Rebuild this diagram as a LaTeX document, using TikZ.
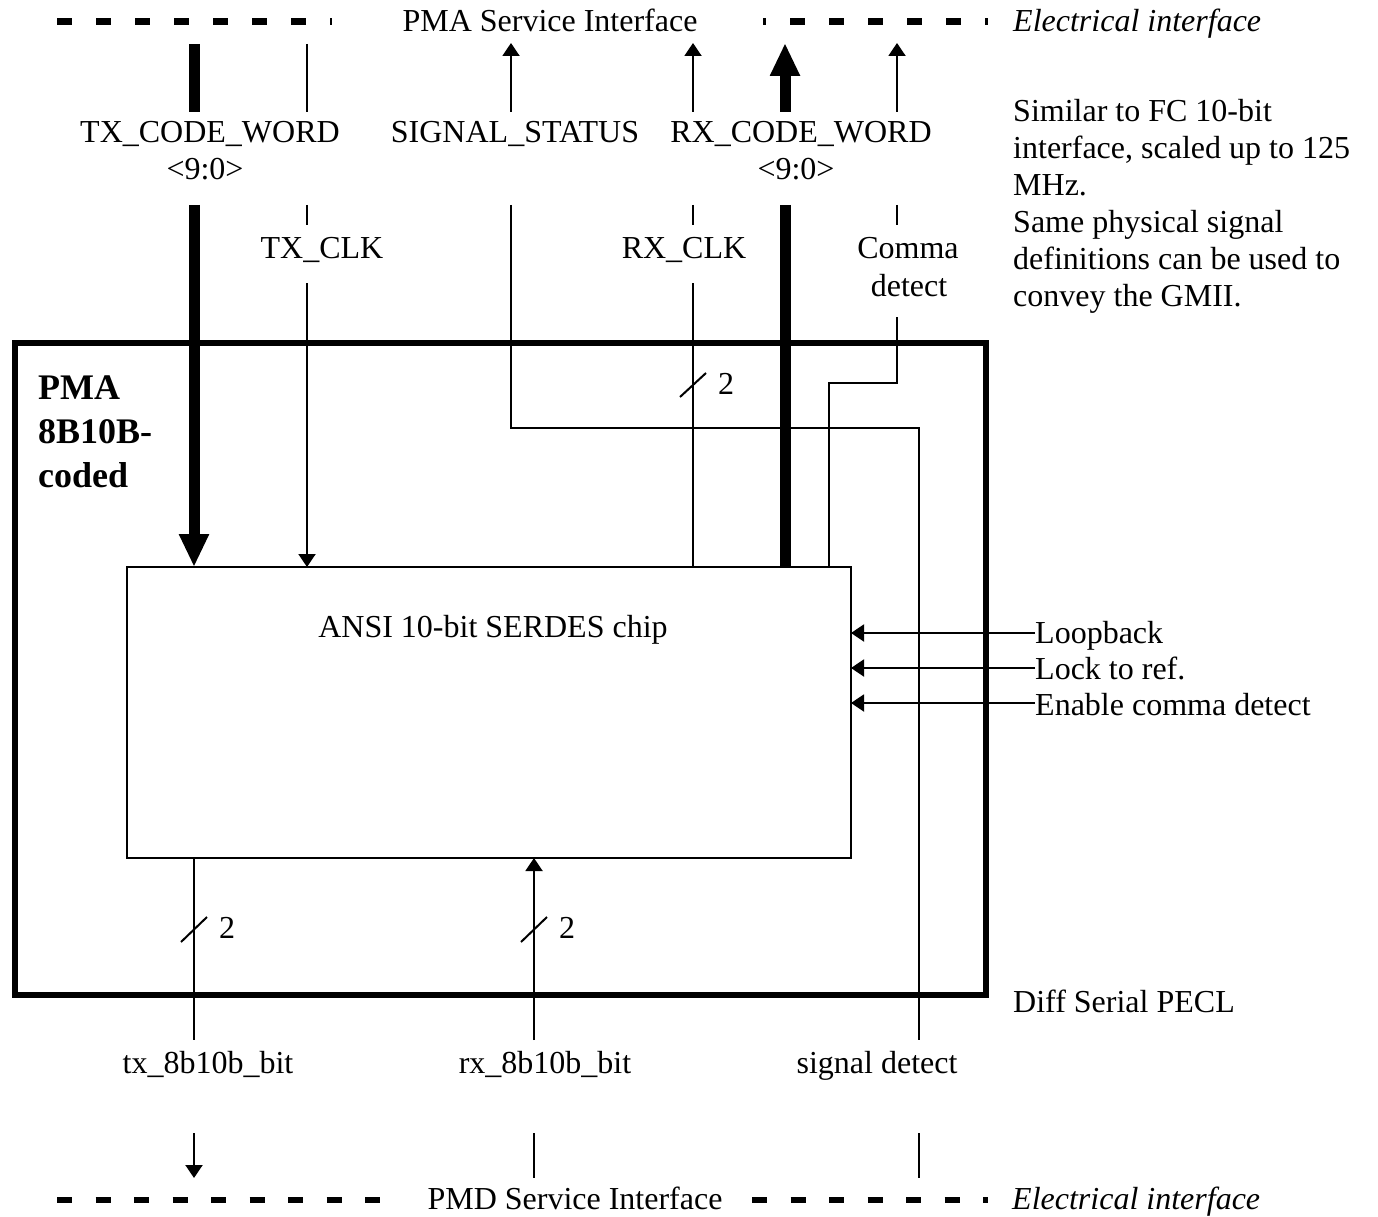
\documentclass[tikz,border=0pt]{standalone}
\usepackage{fontspec}
\setmainfont{Liberation Serif}
\usetikzlibrary{arrows.meta}
\begin{document}
\begin{tikzpicture}[x=1pt,y=-1pt,
  txt/.style={inner sep=0pt, font=\fontsize{32}{37}\selectfont},
  itxt/.style={inner sep=0pt, font=\fontsize{32}{37}\selectfont\itshape},
  btxt/.style={inner sep=0pt, font=\fontsize{36}{44}\selectfont\bfseries},
  wire/.style={line width=2pt},
  bus/.style={line width=11pt},
  sarrow/.style={wire, -{Triangle[width=17pt,length=13pt]}},
  barrow/.style={bus, -{Triangle[width=28pt,length=33pt]}},
  dashtop/.style={line width=7pt, dash pattern=on 15pt off 24pt},
  dashbot/.style={line width=6pt, dash pattern=on 15pt off 23.5pt},
  box/.style={draw, inner sep=0pt, outer sep=0pt, anchor=north west}
  ]
\fill[white] (0,0) rectangle (1378,1217);
\useasboundingbox (0,0) rectangle (1378,1217);

% lane coordinates
\coordinate (xtx) at (194,0);
\coordinate (xtxclk) at (307,0);
\coordinate (xss) at (511,0);
\coordinate (xrxclk) at (693,0);
\coordinate (xrxcw) at (785,0);
\coordinate (xcomma) at (897,0);
\coordinate (xcommain) at (829,0);
\coordinate (xsd) at (919,0);
\coordinate (xrx) at (534,0);

% boxes
\node[box, line width=5.5pt, minimum width=971pt, minimum height=652pt] (pma) at (15,343) {};
\node[box, wire, minimum width=724pt, minimum height=291pt] (chip) at (127,567) {};
\node[txt,anchor=base] (chiplbl) at (493,637) {ANSI 10-bit SERDES chip};
\node[btxt,anchor=north west,align=left] (pmalbl) at (38,376) {PMA\\8B10B-\\coded};

% top interface
\draw[dashtop] (57,22) -- (332,22);
\draw[dashtop, dash phase=12pt] (763,22) -- (988,22);
\node[txt,anchor=base] (pmasi) at (550,32) {PMA Service Interface};
\node[itxt,anchor=base west] (elec1) at (1013,32) {Electrical interface};
\node[txt,anchor=north west,align=left] (note) at (1013,99) {Similar to FC 10-bit\\interface, scaled up to 125\\MHz.\\Same physical signal\\definitions can be used to\\convey the GMII.};

% signal labels
\node[txt,anchor=base] (txcw) at (210,143) {TX\_CODE\_WORD};
\node[txt,anchor=base] (txcwb) at (205,180) {<9:0>};
\node[txt,anchor=base] (ss) at (515,143) {SIGNAL\_STATUS};
\node[txt,anchor=base] (rxcw) at (801,143) {RX\_CODE\_WORD};
\node[txt,anchor=base] (rxcwb) at (796,180) {<9:0>};
\node[txt,anchor=base] (txclk) at (322,258) {TX\_CLK};
\node[txt,anchor=base] (rxclk) at (684,258) {RX\_CLK};
\node[txt,anchor=base] (comma) at (908,258) {Comma};
\node[txt,anchor=base] (commab) at (909,296) {detect};

% TX_CODE_WORD
\draw[bus] (194,44) -- (194,112);
\draw[barrow] (194,205) -- (chip.north -| xtx);
% TX_CLK
\draw[wire] (307,44) -- (307,112);
\draw[wire] (307,205) -- (307,225);
\draw[sarrow] (307,283) -- (chip.north -| xtxclk);
% SIGNAL_STATUS / signal detect
\draw[sarrow] (511,112) -- (511,43);
\draw[wire] (511,205) -- (511,428) -- (919,428) -- (919,1040);
% RX_CLK
\draw[sarrow] (693,112) -- (693,43);
\draw[wire] (693,205) -- (693,225);
\draw[wire] (693,283) -- (chip.north -| xrxclk);
\draw[wire] (680,397) -- (706,373);
\node[txt,anchor=base] (w1) at (726,394) {2};
% RX_CODE_WORD
\draw[barrow] (785,112) -- (785,43);
\draw[bus] (785,205) -- (chip.north -| xrxcw);
% Comma detect
\draw[sarrow] (897,112) -- (897,43);
\draw[wire] (897,205) -- (897,225);
\draw[wire] (897,317) -- (897,383) -- (829,383) -- (chip.north -| xcommain);

% right control inputs
\node[txt,anchor=base west] (loop) at (1035,643) {Loopback};
\node[txt,anchor=base west] (lock) at (1035,679) {Lock to ref.};
\node[txt,anchor=base west] (ecd) at (1035,715) {Enable comma detect};
\draw[sarrow] ([yshift=10pt]loop.base west) coordinate (l1) -- (l1 -| chip.east);
\draw[sarrow] ([yshift=11pt]lock.base west) coordinate (l2) -- (l2 -| chip.east);
\draw[sarrow] ([yshift=12pt]ecd.base west) coordinate (l3) -- (l3 -| chip.east);

% bottom serial lines
\draw[wire] (chip.south -| xtx) -- (194,1040);
\draw[wire] (181,942) -- (207,917);
\node[txt,anchor=base] (w2) at (227,938) {2};
\draw[sarrow] (534,1040) -- (chip.south -| xrx);
\draw[wire] (521,942) -- (547,917);
\node[txt,anchor=base] (w3) at (567,938) {2};

\node[txt,anchor=base west] (dsp) at (1013,1012) {Diff Serial PECL};
\node[txt,anchor=base] (txb) at (208,1073) {tx\_8b10b\_bit};
\node[txt,anchor=base] (rxb) at (545,1073) {rx\_8b10b\_bit};
\node[txt,anchor=base] (sd) at (877,1073) {signal detect};

\draw[sarrow] (194,1133) -- (194,1178);
\draw[wire] (534,1133) -- (534,1178);
\draw[wire] (919,1133) -- (919,1178);

% bottom interface
\draw[dashbot] (57,1200) -- (382,1200);
\draw[dashbot] (752,1200) -- (988,1200);
\node[txt,anchor=base] (pmdsi) at (575,1209) {PMD Service Interface};
\node[itxt,anchor=base west] (elec2) at (1012,1209) {Electrical interface};
\end{tikzpicture}
\end{document}
